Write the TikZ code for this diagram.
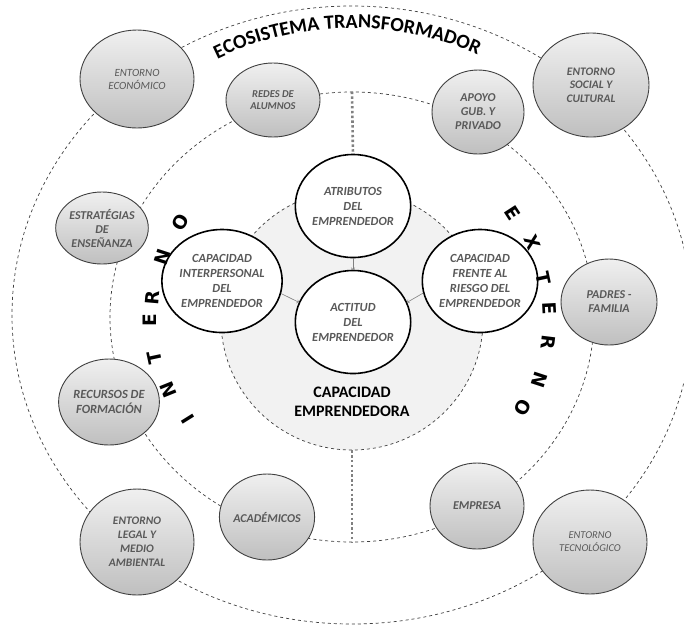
\documentclass[tikz,border=0pt]{standalone}
\usepackage{fontspec}
\setmainfont{Carlito}
\newfontfamily\letrafont{DejaVu Sans}
\usetikzlibrary{shapes.geometric,decorations.text}
\definecolor{txtgris}{HTML}{595959}
\definecolor{bordegris}{HTML}{404040}
\definecolor{fondogris}{HTML}{F2F2F2}

\begin{document}
\begin{tikzpicture}[x=1pt,y=-1pt,
  anillo/.style={ellipse,draw=bordegris,dashed,line width=0.7pt},
  factor/.style={ellipse,draw=bordegris,line width=0.9pt,top color=gray!12,bottom color=gray!50,
    text=txtgris,align=center,inner sep=0pt,font=\bfseries\itshape\fontsize{12}{14}\selectfont},
  nucleo/.style={ellipse,draw=black,line width=1.6pt,fill=white,text=txtgris,align=center,
    inner sep=0pt,minimum width=114,minimum height=103,font=\bfseries\itshape\fontsize{12.4}{15}\selectfont},
  flecha/.style={->,gray,line width=0.6pt},
  punteado/.style={gray,line width=2.6pt,dash pattern=on 2.4pt off 2.4pt},
  letra/.style={inner sep=1pt,font=\letrafont\bfseries\fontsize{18.5}{18.5}\selectfont}]

\useasboundingbox (0,0) rectangle (684,625);
\clip (0,0) rectangle (684,625);
\fill[white] (0,0) rectangle (684,625);

%anillos
\node[anillo,minimum width=680,minimum height=618] (exterior) at (352,315) {};
\node[anillo,minimum width=484,minimum height=450] (medio) at (352,317) {};
\node[anillo,fill=fondogris,minimum width=262,minimum height=260] (interior) at (352,320) {};

\path[decorate,decoration={text along path,text align=center,
  text={|\bfseries\fontsize{20}{20}\selectfont|ECOSISTEMA TRANSFORMADOR}}]
  (352,315) ++(228:297 and 287) arc[start angle=228,end angle=310,x radius=297,y radius=287];

\draw[punteado] (medio.north) -- (353,155);
\draw[punteado] (interior.south) -- (medio.south);

%nucleo
\node[nucleo] (atrib) at (353,206) {ATRIBUTOS\\DEL\\EMPRENDEDOR};
\node[nucleo] (interp) at (222,281) {CAPACIDAD\\INTERPERSONAL\\DEL\\EMPRENDEDOR};
\node[nucleo] (riesgo) at (480,281) {CAPACIDAD\\FRENTE AL\\RIESGO DEL\\EMPRENDEDOR};
\node[nucleo] (actitud) at (353,322) {ACTITUD\\DEL\\EMPRENDEDOR};

\draw[flecha] (atrib.south) -- (actitud.north);
\draw[flecha] (interp.-12) -- (actitud.160);
\draw[flecha] (riesgo.192) -- (actitud.20);

\node[align=center,font=\bfseries\fontsize{16}{19}\selectfont] (capemp) at (352,402) {CAPACIDAD\\EMPRENDEDORA};

%factores
\node[factor,minimum width=114,minimum height=98,font=\itshape\fontsize{11}{13}\selectfont] (econ) at (137,79) {ENTORNO\\ECONÓMICO};
\node[factor,minimum width=94,minimum height=74,font=\bfseries\itshape\fontsize{10.5}{12.5}\selectfont] (redes) at (273,100) {REDES DE\\ALUMNOS};
\node[factor,minimum width=92,minimum height=72] (estrat) at (102,228) {ESTRATÉGIAS\\DE\\ENSEÑANZA};
\node[factor,minimum width=92,minimum height=84] (apoyo) at (478,112) {APOYO\\GUB. Y\\PRIVADO};
\node[factor,minimum width=116,minimum height=104,font=\bfseries\itshape\fontsize{11.5}{13.5}\selectfont] (social) at (591,85) {ENTORNO\\SOCIAL Y\\CULTURAL};
\node[factor,minimum width=96,minimum height=86] (padres) at (609,302) {PADRES -\\FAMILIA};
\node[factor,minimum width=92,minimum height=86,font=\bfseries\itshape\fontsize{12.5}{15}\selectfont] (recursos) at (109,402) {RECURSOS DE\\FORMACIÓN};
\node[factor,minimum width=94,minimum height=86] (academ) at (267,517) {ACADÉMICOS};
\node[factor,minimum width=114,minimum height=106,font=\bfseries\itshape\fontsize{11.5}{14}\selectfont] (legal) at (137,542) {ENTORNO\\LEGAL Y\\MEDIO\\AMBIENTAL};
\node[factor,minimum width=94,minimum height=86] (empresa) at (477,506) {EMPRESA};
\node[factor,minimum width=114,minimum height=104,font=\itshape\fontsize{10.5}{13}\selectfont] (tecno) at (590,542) {ENTORNO\\TECNOLÓGICO};

%interno / externo
\node[letra,rotate=122] (int1) at (188,419) {I};
\node[letra,rotate=112] (int2) at (168,390) {N};
\node[letra,rotate=102] (int3) at (155,358) {T};
\node[letra,rotate=90] (int4) at (150,320) {E};
\node[letra,rotate=85] (int5) at (152,298) {R};
\node[letra,rotate=72] (int6) at (162,257) {N};
\node[letra,rotate=61] (int7) at (180,222) {O};

\node[letra,rotate=-57] (ext1) at (513,213) {E};
\node[letra,rotate=-67] (ext2) at (532,242) {X};
\node[letra,rotate=-78] (ext3) at (543,278) {T};
\node[letra,rotate=-87] (ext4) at (550,308) {E};
\node[letra,rotate=-97] (ext5) at (548,342) {R};
\node[letra,rotate=-108] (ext6) at (540,380) {N};
\node[letra,rotate=-118] (ext7) at (523,408) {O};

\end{tikzpicture}
\end{document}
